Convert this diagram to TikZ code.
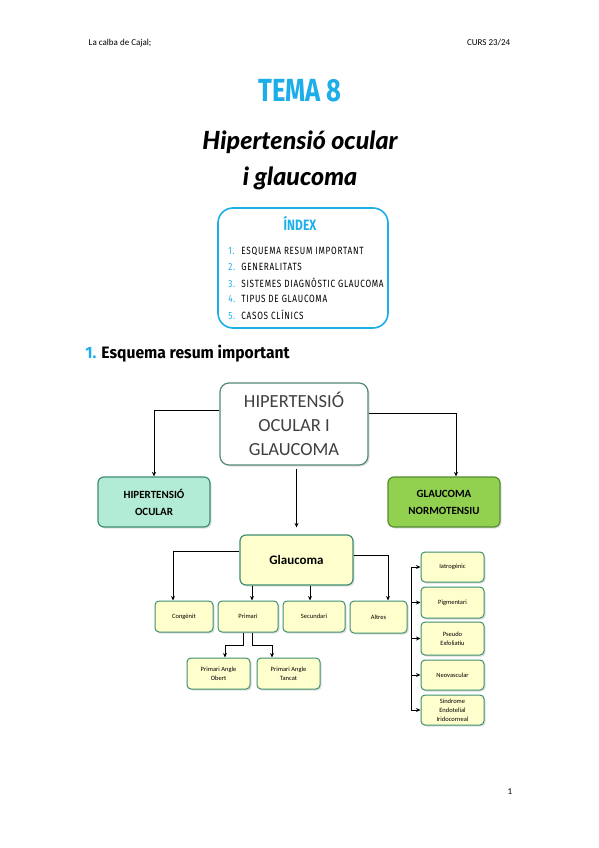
\documentclass[tikz,border=0pt]{standalone}
\usepackage{fontspec}
\setmainfont{Carlito}
\newfontfamily\condfont[FakeStretch=0.8]{Fira Sans}
\newfontfamily\itemfont[FakeStretch=0.78, LetterSpace=7]{Fira Sans}
\newfontfamily\headfont[FakeStretch=0.95]{Fira Sans}
\newfontfamily\handfont[BoldItalicFont={* Black Italic}]{Lato}
\usepackage{xcolor}
\usetikzlibrary{arrows.meta, positioning, shadows, calc}

\definecolor{temablue}{RGB}{29,174,234}
\definecolor{boxline}{RGB}{62,142,112}
\definecolor{mintfill}{RGB}{178,236,214}
\definecolor{greenfill}{RGB}{146,208,80}
\definecolor{greenline}{RGB}{84,140,52}
\definecolor{creamfill}{RGB}{255,255,206}
\definecolor{bigtext}{RGB}{64,64,64}

\tikzset{
  shade box/.style={drop shadow={opacity=0.25, shadow xshift=1.5pt, shadow yshift=-1.5pt}},
  mainbox/.style={draw=boxline!70!gray, line width=1.2pt, fill=white, rounded corners=9pt,
    shade box, align=center, text=bigtext, font=\fontsize{18.5}{24}\selectfont},
  kindbox/.style={draw=boxline, line width=1.2pt, rounded corners=6pt, shade box,
    align=center, font=\bfseries\fontsize{11}{17}\selectfont},
  leafbox/.style={draw=boxline, line width=1pt, fill=creamfill, rounded corners=4pt,
    shade box, align=center, inner sep=1pt, font=\fontsize{6.5}{9}\selectfont}
}

\begin{document}
\begin{tikzpicture}[x=1pt, y=-1pt, >={Stealth[length=4.5pt,width=4pt]}, line width=0.8pt]
  \useasboundingbox (0,0) rectangle (599,848);

  % Page header
  \node[anchor=west, font=\fontsize{9}{10}\selectfont] (hdleft) at (85,43) {La calba de Cajal;};
  \node[anchor=east, font=\fontsize{9}{10}\selectfont] (hdright) at (514,43) {CURS 23/24};

  % Title
  \node[text=temablue, font=\condfont\bfseries\fontsize{32}{34}\selectfont] (tema) at (300,91) {TEMA 8};
  \node[font=\handfont\bfseries\itshape\fontsize{25}{36}\selectfont, align=center] (title) at (300,160)
    {Hipertensió ocular\\i glaucoma};

  % Index box
  \node[draw=temablue, line width=1.6pt, rounded corners=15pt, minimum width=170pt,
    minimum height=120pt] (index) at (303,268) {};
  \node[text=temablue, font=\condfont\bfseries\fontsize{15}{16}\selectfont] (indextitle) at (300,223) {ÍNDEX};
  \foreach \t [count=\i] in {ESQUEMA RESUM IMPORTANT, GENERALITATS,
      SISTEMES DIAGNÒSTIC GLAUCOMA, TIPUS DE GLAUCOMA, CASOS CLÍNICS}
    \node[anchor=west, inner sep=0pt, font=\itemfont\fontsize{10.5}{11}\selectfont] (item\i) at (228,235+16*\i)
      {\makebox[13pt][l]{\textcolor{temablue}{\i.}}\t};

  % Section heading
  \node[anchor=west, inner sep=0pt, font=\headfont\bfseries\fontsize{16.5}{18}\selectfont] (section) at (85,354)
    {\textcolor{temablue}{1.} Esquema resum important};

  % Scheme: top level
  \node[mainbox, minimum width=148pt, minimum height=82pt] (top) at (294,424)
    {HIPERTENSIÓ\\OCULAR I\\GLAUCOMA};
  \node[kindbox, fill=mintfill, minimum width=112pt, minimum height=50pt] (hypert) at (154,502)
    {HIPERTENSIÓ\\OCULAR};
  \node[kindbox, fill=greenfill, draw=greenline, minimum width=112pt, minimum height=50pt] (normo) at (444,502)
    {GLAUCOMA\\NORMOTENSIU};
  \node[kindbox, fill=creamfill, minimum width=113pt, minimum height=50pt,
    font=\bfseries\fontsize{13}{15}\selectfont] (glauc) at (296.5,560) {Glaucoma};

  \draw[->] ([yshift=14pt]top.west) -| (hypert.north);
  \draw[->] ([yshift=11pt]top.east) -| ([xshift=12pt]normo.north);
  \draw[->, shorten <=3pt, shorten >=7pt] (glauc.north |- top.south) -- (glauc.north);

  % Types of glaucoma
  \node[leafbox, minimum width=58pt, minimum height=31pt] (cong) at (184,616.5) {Congènit};
  \node[leafbox, minimum width=60pt, minimum height=31pt] (prim) at (248,616.5) {Primari};
  \node[leafbox, minimum width=62pt, minimum height=31pt] (secund) at (314,616.5) {Secundari};
  \node[leafbox, minimum width=57pt, minimum height=32pt] (altres) at (378.5,617) {Altres};

  \draw[->] ([yshift=9pt]glauc.west) -| ([xshift=-11pt]cong.north);
  \draw[->] ([yshift=5pt]glauc.east) -| ([xshift=9.5pt]altres.north);
  \draw[->] (glauc.south -| 252,0) -- ([xshift=4pt]prim.north);
  \draw[->] (glauc.south -| 310,0) -- ([xshift=-4pt]secund.north);

  % Primari branches
  \node[leafbox, minimum width=63pt, minimum height=31pt] (obert) at (218.5,673.5) {Primari Angle\\Obert};
  \node[leafbox, minimum width=63pt, minimum height=31pt] (tancat) at (288.5,673.5) {Primari Angle\\Tancat};

  \draw[->] ([xshift=-5pt]prim.south) -- ++(0,13) -| ([xshift=6.5pt]obert.north);
  \draw[->] ([xshift=4pt]prim.south) -- ++(0,13) -| ([xshift=-16.5pt]tancat.north);

  % Altres
  \node[leafbox, minimum width=63pt, minimum height=30pt] (iatro) at (452.5,567) {Iatrogènic};
  \node[leafbox, minimum width=63pt, minimum height=31pt] (pigment) at (452.5,602.5) {Pigmentari};
  \node[leafbox, minimum width=63pt, minimum height=33pt] (pseudo) at (452.5,638.5) {Pseudo\\Exfoliatiu};
  \node[leafbox, minimum width=63pt, minimum height=30pt] (neovasc) at (452.5,675) {Neovascular};
  \node[leafbox, minimum width=63pt, minimum height=30pt] (iridoc) at (452.5,710) {Síndrome\\Endotelial\\Iridocorneal};

  \foreach \n in {iatro, pigment, pseudo, neovasc, iridoc}
    \draw[->] ([xshift=4pt]altres.east) |- (\n.west);

  % Page number
  \node[font=\fontsize{9}{10}\selectfont] (pagenum) at (510,792) {1};
\end{tikzpicture}
\end{document}
